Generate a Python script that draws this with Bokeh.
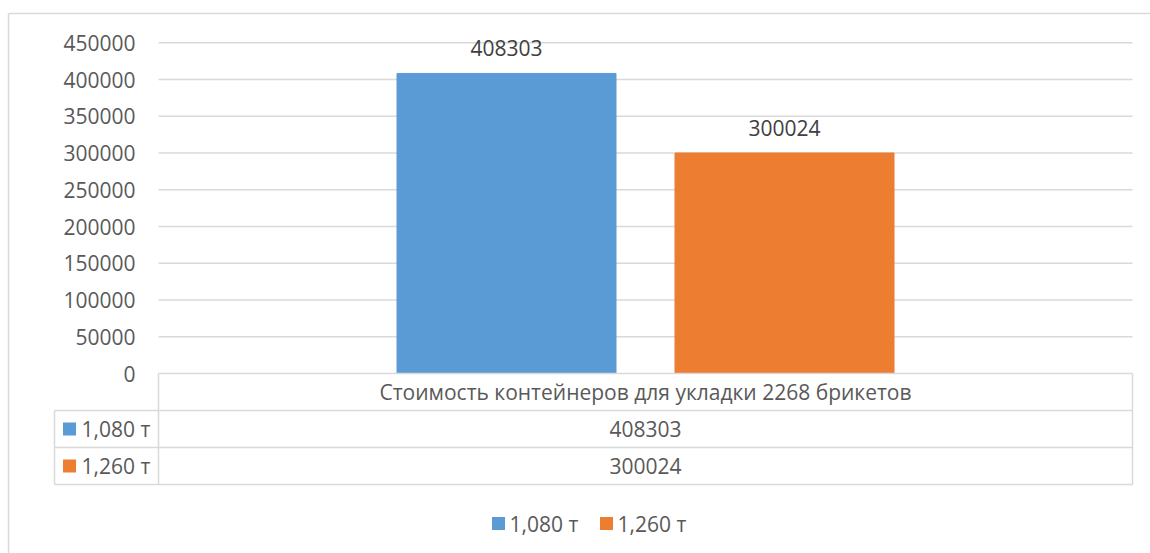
from bokeh.plotting import figure
from bokeh.models import Range1d, ColumnDataSource
from bokeh.core.properties import value
from bokeh.embed import file_html
from bokeh.resources import INLINE

# ---- data ----
category = "Стоимость контейнеров для укладки 2268 брикетов"
series_names = ["1,080 т", "1,260 т"]
series_values = [408303, 300024]
series_colors = ["#5B9BD5", "#ED7D31"]
y_ticks = [0, 50000, 100000, 150000, 200000, 250000, 300000, 350000, 400000, 450000]
y_max = 450000

# ---- page geometry (pixels) ----
W, H = 1150, 553
PLOT_L, PLOT_R = 158, 1132          # plot area horizontal extent
ZERO_PX, TOP_PX = 373, 42.3          # screen rows of 0 and y_max
TABLE_L = 54                         # left edge of the series-name column
ROW_H = 37                           # data-table row height
BAR_W, BAR_GAP = 219, 59
GRID = "#d9d9d9"
TXT = "#595959"
FONT = value("Open Sans")
FS = value("21px")

units_per_px = y_max / (ZERO_PX - TOP_PX)
p = figure(width=W, height=H,
           x_range=Range1d(0, W),
           y_range=Range1d(-(H - ZERO_PX) * units_per_px, ZERO_PX * units_per_px),
           x_axis_type=None, y_axis_type=None,
           output_backend="svg", toolbar_location=None,
           min_border=0, outline_line_color=None)
p.grid.visible = False
p.background_fill_color = "white"
p.border_fill_color = "white"
p.extra_y_ranges = {"px": Range1d(H, 0)}

# outer chart-area frame
p.segment(x0=[8, 8], y0=[13, 13], x1=[8, W], y1=[H, 13], y_range_name="px",
          line_color=GRID, line_width=1.5)

# horizontal gridlines + tick labels
grid_ticks = [t for t in y_ticks if t > 0]
p.segment(x0=[PLOT_L] * len(grid_ticks), x1=[PLOT_R] * len(grid_ticks),
          y0=grid_ticks, y1=grid_ticks, line_color=GRID, line_width=1.5)
p.text(x=[PLOT_L - 23] * len(y_ticks), y=y_ticks, text=[str(t) for t in y_ticks],
       text_align="right", text_baseline="middle", text_font=FONT,
       text_font_size=FS, text_color=TXT)

# bars
n = len(series_values)
center = (PLOT_L + PLOT_R) / 2
xs = [center + (i - (n - 1) / 2) * (BAR_W + BAR_GAP) for i in range(n)]
src = ColumnDataSource(dict(x=xs, top=series_values, color=series_colors,
                            label=[str(v) for v in series_values]))
p.vbar(x="x", top="top", bottom=0, width=BAR_W, color="color", source=src)
p.text(x="x", y="top", text="label", source=src, text_align="center",
       text_baseline="middle", y_offset=-25, text_font=FONT,
       text_font_size=FS, text_color="#404040")

# data table
rows_top = ZERO_PX + ROW_H
row_lines = [ZERO_PX] + [rows_top + k * ROW_H for k in range(n + 1)]
table_bottom = row_lines[-1]
hx0 = [PLOT_L] + [TABLE_L] * (n + 1)
hx1 = [PLOT_R] * (n + 2)
p.segment(x0=hx0, x1=hx1, y0=row_lines, y1=row_lines, y_range_name="px",
          line_color=GRID, line_width=1.5)
p.segment(x0=[PLOT_L, TABLE_L, PLOT_R], x1=[PLOT_L, TABLE_L, PLOT_R],
          y0=[ZERO_PX, rows_top, ZERO_PX], y1=[table_bottom] * 3,
          y_range_name="px", line_color=GRID, line_width=1.5)
p.text(x=[center], y=[ZERO_PX + ROW_H / 2], text=[category], y_range_name="px",
       text_align="center", text_baseline="middle", text_font=FONT,
       text_font_size=FS, text_color=TXT)
row_mid = [rows_top + (k + 0.5) * ROW_H for k in range(n)]
p.rect(x=[TABLE_L + 15] * n, y=row_mid, width=13, height=13, y_range_name="px",
       fill_color=series_colors, line_color=None)
p.text(x=[TABLE_L + 27] * n, y=row_mid, text=series_names, y_range_name="px",
       text_align="left", text_baseline="middle", text_font=FONT,
       text_font_size=FS, text_color=TXT)
p.text(x=[center] * n, y=row_mid, text=[str(v) for v in series_values],
       y_range_name="px", text_align="center", text_baseline="middle",
       text_font=FONT, text_font_size=FS, text_color=TXT)

# legend at the bottom
LEG_Y = 523
leg_x = [498, 606]
p.rect(x=leg_x, y=[LEG_Y] * n, width=13, height=13, y_range_name="px",
       fill_color=series_colors, line_color=None)
p.text(x=[x + 11 for x in leg_x], y=[LEG_Y] * n, text=series_names,
       y_range_name="px", text_align="left", text_baseline="middle",
       text_font=FONT, text_font_size=FS, text_color=TXT)

open("out.html", "w").write(file_html(p, INLINE))
